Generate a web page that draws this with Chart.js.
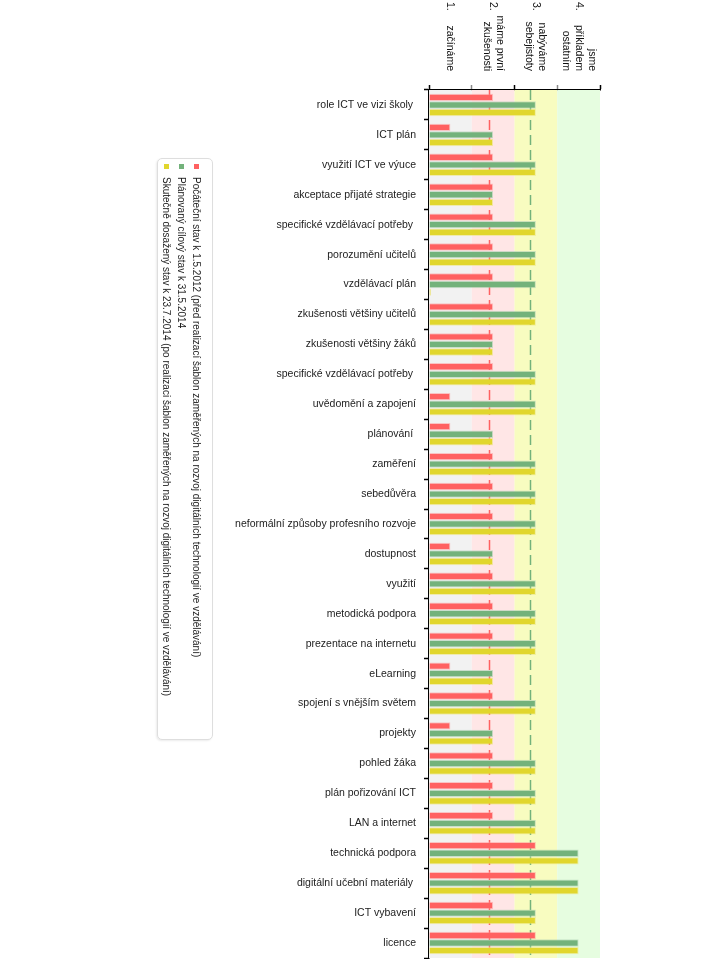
<!DOCTYPE html>
<html>
<head>
<meta charset="utf-8">
<script src="https://cdn.jsdelivr.net/npm/chart.js@4"></script>
<style>
  body { margin: 0; background: #fff; }
  #wrap { position: relative; width: 720px; height: 959px; }
  #legend {
    position: absolute; left: -106px; top: 421px; width: 582px; height: 56px;
    box-sizing: border-box; padding: 8px 6px 3px 5px;
    transform: rotate(90deg);
    border: 1px solid #dedede; border-radius: 5px;
    box-shadow: 1px 1px 2px rgba(0,0,0,0.08);
    font: 10px "Liberation Sans", Arial, sans-serif; color: #222;
    background: #fff; z-index: 2;
  }
  #legend div { height: 15px; line-height: 15px; white-space: nowrap; }
  #legend span { display: inline-block; width: 5px; height: 5px; margin-right: 8px; vertical-align: 1px; }
</style>
</head>
<body>
<div id="wrap">
  <canvas id="chart"></canvas>
  <div id="legend"></div>
</div>
<script>
const categories = [
    "role ICT ve vizi školy ", "ICT plán", "využití ICT ve výuce", "akceptace přijaté strategie",
    "specifické vzdělávací potřeby ", "porozumění učitelů", "vzdělávací plán",
    "zkušenosti většiny učitelů", "zkušenosti většiny žáků", "specifické vzdělávací potřeby ",
    "uvědomění a zapojení", "plánování ", "zaměření", "sebedůvěra",
    "neformální způsoby profesního rozvoje", "dostupnost", "využití", "metodická podpora",
    "prezentace na internetu", "eLearning", "spojení s vnějším světem", "projekty",
    "pohled žáka", "plán pořizování ICT", "LAN a internet", "technická podpora",
    "digitální učební materiály ", "ICT vybavení", "licence"
];

const startValues   = [1.5, 0.5, 1.5, 1.5, 1.5, 1.5, 1.5, 1.5, 1.5, 1.5, 0.5, 0.5, 1.5, 1.5, 1.5, 0.5, 1.5, 1.5, 1.5, 0.5, 1.5, 0.5, 1.5, 1.5, 1.5, 2.5, 2.5, 1.5, 2.5];
const plannedValues = [2.5, 1.5, 2.5, 1.5, 2.5, 2.5, 2.5, 2.5, 1.5, 2.5, 2.5, 1.5, 2.5, 2.5, 2.5, 1.5, 2.5, 2.5, 2.5, 1.5, 2.5, 1.5, 2.5, 2.5, 2.5, 3.5, 3.5, 2.5, 3.5];
const actualValues  = [2.5, 1.5, 2.5, 1.5, 2.5, 2.5, 0,   2.5, 1.5, 2.5, 2.5, 1.5, 2.5, 2.5, 2.5, 1.5, 2.5, 2.5, 2.5, 1.5, 2.5, 1.5, 2.5, 2.5, 2.5, 3.5, 3.5, 2.5, 3.5];

const seriesNames = [
    "Počáteční stav k 1.5.2012 (před realizací šablon zaměřených na rozvoj digitálních technologií ve vzdělávání)",
    "Plánovaný cílový stav k 31.5.2014",
    "Skutečně dosažený stav k 23.7.2014 (po realizaci šablon zaměřených na rozvoj digitálních technologií ve vzdělávání)"
];

// level headings above the chart
const levelNumbers = ["1.", "2.", "3.", "4."];
const levelTexts = [["začínáme"], ["máme první", "zkušenosti"], ["nabýváme", "sebejistoty"], ["jsme", "příkladem", "ostatním"]];

const colors = ["#ff6161", "#73b27b", "#e1d62d"];
const bandColors = ["#f2f2f2", "#ffe6e6", "#f8fcc0", "#e6fde0"];
const FONT = '"Liberation Sans", Arial, sans-serif';

function average(arr) {
    return arr.reduce((a, b) => a + b, 0) / arr.length;
}

// Legend
const legendEl = document.getElementById("legend");
seriesNames.forEach((name, i) => {
    const row = document.createElement("div");
    row.innerHTML = `<span style="background:${colors[i]}"></span>`;
    row.appendChild(document.createTextNode(name));
    legendEl.appendChild(row);
});

// Background bands + average lines
const bandsPlugin = {
    id: "bands",
    beforeDatasetsDraw(chart) {
        const { ctx, chartArea, scales } = chart;
        const x = scales.x;
        ctx.save();
        for (let i = 0; i < bandColors.length; i++) {
            const x0 = x.getPixelForValue(i);
            const x1 = x.getPixelForValue(i + 1);
            ctx.fillStyle = bandColors[i];
            ctx.fillRect(x0, chartArea.top, x1 - x0, chartArea.bottom - chartArea.top);
        }
        const avgs = [[average(startValues), colors[0]], [average(plannedValues), colors[1]]];
        ctx.lineWidth = 1.5;
        ctx.setLineDash([10, 5]);
        avgs.forEach(([v, c]) => {
            const px = Math.round(x.getPixelForValue(v)) + 0.5;
            ctx.strokeStyle = c;
            ctx.beginPath();
            ctx.moveTo(px, chartArea.top);
            ctx.lineTo(px, chartArea.bottom);
            ctx.stroke();
        });
        ctx.restore();
    }
};

// Rotated level headings
const headingsPlugin = {
    id: "headings",
    afterDraw(chart) {
        const { ctx, scales } = chart;
        const x = scales.x;
        ctx.save();
        ctx.fillStyle = "#111";
        ctx.font = "10.5px " + FONT;
        ctx.textBaseline = "middle";
        for (let i = 0; i < levelNumbers.length; i++) {
            const px = x.getPixelForValue(i + 0.5);
            ctx.save();
            ctx.translate(px, 0);
            ctx.rotate(Math.PI / 2);
            ctx.textAlign = "left";
            ctx.fillText(levelNumbers[i], 2, 0);
            const lines = levelTexts[i];
            const lh = 13;
            ctx.textAlign = "right";
            lines.forEach((t, j) => {
                ctx.fillText(t, 71, (j - (lines.length - 1) / 2) * lh);
            });
            ctx.restore();
        }
        ctx.restore();
    }
};

const ctx = document.getElementById("chart").getContext("2d");

new Chart(ctx, {
    type: "bar",
    data: {
        labels: categories,
        datasets: [
            { label: seriesNames[0], data: startValues, backgroundColor: colors[0], borderColor: "rgba(255,150,150,0.5)", borderWidth: 1 },
            { label: seriesNames[1], data: plannedValues, backgroundColor: colors[1], borderColor: "rgba(175,208,180,0.6)", borderWidth: 1 },
            { label: seriesNames[2], data: actualValues, backgroundColor: colors[2], borderColor: "rgba(236,230,130,0.6)", borderWidth: 1, minBarLength: 2 }
        ]
    },
    options: {
        indexAxis: "y",
        responsive: true,
        maintainAspectRatio: false,
        animation: false,
        categoryPercentage: 0.76,
        barPercentage: 0.97,
        layout: { padding: { top: 85, right: 120, bottom: 1, left: 0 } },
        plugins: {
            legend: { display: false },
            tooltip: { enabled: false }
        },
        scales: {
            x: {
                position: "top",
                min: 0,
                max: 4,
                ticks: { display: false, stepSize: 1 },
                grid: {
                    drawOnChartArea: false,
                    drawTicks: true,
                    tickLength: 5,
                    tickWidth: 1.5,
                    tickColor: c => (c.index % 2 ? "#888" : "#000")
                },
                border: { display: true, color: "#000", width: 1.5 },
                afterFit(scale) {
                    scale.height = 5;
                    scale.paddingLeft = 0;
                    scale.paddingRight = 0;
                }
            },
            y: {
                ticks: {
                    color: "#222",
                    font: { family: FONT, size: 10.5 },
                    padding: 8,
                    autoSkip: false
                },
                grid: {
                    drawOnChartArea: false,
                    drawTicks: true,
                    tickLength: 5,
                    tickWidth: 1.5,
                    tickColor: "#000"
                },
                border: { display: true, color: "#000", width: 1.5 },
                afterFit(scale) {
                    scale.width = 429;
                    scale.paddingTop = 0;
                    scale.paddingBottom = 0;
                }
            }
        }
    },
    plugins: [bandsPlugin, headingsPlugin]
});
</script>
</body>
</html>
